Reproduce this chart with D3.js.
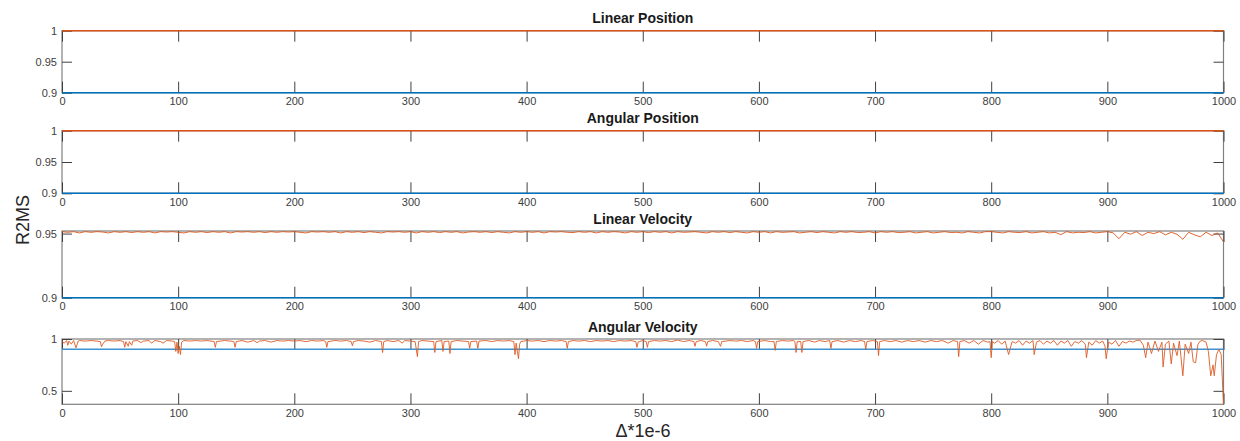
<!DOCTYPE html>
<html><head><meta charset="utf-8">
<script src="https://cdn.jsdelivr.net/npm/d3@7"></script>
<style>
html,body{margin:0;padding:0;background:#fff;}
svg{display:block;font-family:"Liberation Sans",Arial,Helvetica,sans-serif;}
</style></head>
<body>
<svg id="chart" width="1240" height="441"></svg>
<script>
// ---------- data ----------
const titles = ["Linear Position", "Angular Position", "Linear Velocity", "Angular Velocity"];
const xTicks = [0, 100, 200, 300, 400, 500, 600, 700, 800, 900, 1000];
const yTicks1 = [0.9, 0.95, 1];
const yTicks2 = [0.9, 0.95, 1];
const yTicks3 = [0.9, 0.95];
const yTicks4 = [0.5, 1];
const yLabel = "R2MS";
const xLabel = "\u0394*1e-6";

// constant series (x, value)
const posX = [0, 1000];
const linPosOrange = [1, 1];
const linPosBlue = [0.9, 0.9];
const angPosOrange = [1, 1];
const angPosBlue = [0.9, 0.9];
const linVelBlue = [0.9, 0.9];
const angVelBlue = [0.9, 0.9];

// linear velocity sampled at x = 0,5,...,1000
const linVel = [
0.9515,0.951,0.9515,0.9505,0.9515,0.951,0.9515,0.9512,0.9505,0.9515,0.951,0.9515,0.9508,0.9515,0.951,0.9515,0.9505,0.9515,0.9512,0.9515,
0.951,0.9505,0.9515,0.951,0.9515,0.9508,0.9515,0.951,0.9515,0.9505,0.9515,0.9512,0.9515,0.951,0.9515,0.9508,0.9515,0.951,0.9515,0.9512,
0.9515,0.951,0.9505,0.9515,0.9512,0.9515,0.951,0.9515,0.9505,0.9515,0.951,0.9515,0.9508,0.9515,0.951,0.9505,0.9515,0.9512,0.9515,0.951,
0.9515,0.9505,0.9515,0.951,0.9515,0.9508,0.9515,0.951,0.9515,0.9505,0.9512,0.9515,0.951,0.9515,0.9508,0.9515,0.951,0.9505,0.9515,0.951,
0.9515,0.951,0.9515,0.9505,0.9515,0.9512,0.9515,0.951,0.9508,0.9515,0.951,0.9515,0.9505,0.9515,0.951,0.9515,0.9512,0.9505,0.9515,0.951,
0.9515,0.9508,0.9515,0.951,0.9515,0.9505,0.9515,0.951,0.9512,0.9515,0.951,0.9505,0.9515,0.951,0.9515,0.9508,0.9515,0.951,0.9505,0.9515,
0.951,0.9515,0.9505,0.9515,0.951,0.9512,0.9515,0.9505,0.951,0.9515,0.9508,0.9515,0.951,0.9505,0.9515,0.951,0.9515,0.9508,0.951,0.9515,
0.9505,0.9515,0.951,0.9515,0.9508,0.951,0.9515,0.9505,0.951,0.9515,0.9505,0.951,0.9515,0.9508,0.951,0.9505,0.9515,0.951,0.9505,0.9515,
0.9515,0.951,0.9505,0.9515,0.951,0.9508,0.9515,0.9505,0.951,0.9515,0.9505,0.951,0.9492,0.9515,0.9505,0.951,0.9508,0.9515,0.9505,0.951,
0.9515,0.9505,0.946,0.951,0.9495,0.9515,0.9485,0.951,0.95,0.9515,0.949,0.951,0.9495,0.9455,0.951,0.949,0.9475,0.951,0.9485,0.9505,
0.9435];
const linVelStep = 5;

// angular velocity: irregular samples
const angVelX = [
0,2,4,5,6,8,10,12,14,15,20,25,30,33,34,35,37,40,45,50,53,54,55,57,58,60,61,65,68,70,75,77,80,85,87,90,95,97,98,99,
100,101,102,103,105,110,115,120,125,131,132,133,140,145,148,149,150,155,160,165,168,170,175,180,185,190,195,
200,205,210,215,220,225,227,228,229,235,240,245,249,250,251,255,260,265,270,275,276,277,280,285,290,293,295,
300,304,306,307,310,315,320,321,322,327,328,329,333,334,335,340,345,350,351,352,357,358,359,365,370,375,380,385,389,390,391,393,394,395,
400,405,410,415,420,425,430,434,435,436,440,445,450,455,460,465,470,475,480,485,490,494,495,496,
500,503,504,505,510,515,520,525,530,535,540,544,545,546,550,554,555,556,560,565,567,568,575,580,585,590,595,597,598,599,
605,610,613,614,615,620,625,630,631,632,633,636,637,638,643,648,652,657,661,662,663,668,673,678,683,688,691,692,693,698,
702,703,704,708,713,718,723,728,733,738,743,748,753,758,763,767,771,772,773,777,781,785,789,793,797,799,
800,801,803,806,809,812,815,818,821,824,827,830,833,836,837,839,842,845,848,851,854,857,860,863,866,869,872,875,878,881,882,884,887,890,893,896,898,899,
901,904,907,910,913,916,919,922,925,928,931,933,935,938,941,944,947,948,950,953,955,957,960,962,965,967,970,972,974,976,978,980,982,985,987,989,991,992,994,996,998,1000];
const angVelY = [
0.975,0.96,0.985,0.94,0.98,0.95,0.985,0.915,0.98,0.985,0.98,0.985,0.98,0.975,0.925,0.95,0.98,0.985,0.98,0.985,0.975,0.92,0.975,0.93,0.975,0.94,0.98,0.985,0.965,0.98,0.985,0.96,0.985,0.975,0.96,0.985,0.98,0.975,0.88,0.97,
0.86,0.93,0.85,0.97,0.985,0.98,0.985,0.98,0.985,0.975,0.92,0.975,0.985,0.98,0.975,0.92,0.975,0.985,0.97,0.985,0.965,0.98,0.985,0.97,0.985,0.98,0.985,
0.98,0.985,0.975,0.985,0.98,0.985,0.975,0.92,0.975,0.985,0.98,0.985,0.975,0.935,0.975,0.985,0.98,0.97,0.985,0.975,0.87,0.975,0.985,0.975,0.985,0.96,0.985,
0.98,0.975,0.83,0.975,0.985,0.98,0.975,0.87,0.975,0.985,0.88,0.975,0.98,0.86,0.975,0.985,0.98,0.975,0.91,0.975,0.98,0.91,0.98,0.985,0.975,0.985,0.98,0.985,0.975,0.85,0.96,0.81,0.95,0.975,
0.985,0.98,0.985,0.975,0.985,0.98,0.985,0.975,0.91,0.975,0.985,0.98,0.985,0.975,0.985,0.98,0.985,0.975,0.985,0.98,0.985,0.975,0.92,0.97,
0.985,0.975,0.92,0.975,0.985,0.98,0.985,0.975,0.99,0.975,0.985,0.975,0.93,0.975,0.985,0.975,0.93,0.975,0.985,0.975,0.93,0.975,0.985,0.98,0.985,0.975,0.985,0.975,0.91,0.975,
0.985,0.975,0.975,0.89,0.975,0.985,0.98,0.985,0.975,0.87,0.975,0.975,0.87,0.975,0.985,0.97,0.985,0.975,0.985,0.91,0.975,0.985,0.97,0.985,0.975,0.985,0.975,0.90,0.975,0.985,
0.975,0.84,0.975,0.985,0.975,0.985,0.97,0.985,0.975,0.985,0.97,0.985,0.975,0.985,0.96,0.985,0.975,0.83,0.975,0.985,0.96,0.985,0.95,0.985,0.97,0.975,
0.82,0.975,0.96,0.985,0.95,0.98,0.85,0.975,0.96,0.985,0.94,0.98,0.96,0.985,0.85,0.97,0.985,0.95,0.98,0.96,0.985,0.94,0.98,0.96,0.985,0.93,0.975,0.96,0.985,0.95,0.82,0.97,0.94,0.985,0.96,0.98,0.93,0.81,
0.97,0.95,0.985,0.93,0.975,0.96,0.98,0.97,0.985,0.99,0.94,0.82,0.97,0.86,0.98,0.88,0.97,0.73,0.95,0.98,0.76,0.96,0.84,0.98,0.645,0.95,0.86,0.97,0.78,0.77,0.95,0.98,0.985,0.97,0.88,0.645,0.75,0.645,0.85,0.9,0.85,0.37];

// ---------- layout ----------
const svg = d3.select("#chart");
const left = 62, right = 1223.5;
const orange = "#D95319", blue = "#0072BD";
const boxColor = "#808080", tickColor = "#404040", labelColor = "#404040";

const panels = [
  {title: titles[0], top: 30.7, bottom: 92.7, domain: [0.9, 1], yTicks: yTicks1,
   series: [{x: posX, y: linPosBlue, c: blue, w: 1.6}, {x: posX, y: linPosOrange, c: orange, w: 1.6}]},
  {title: titles[1], top: 130.7, bottom: 193.3, domain: [0.9, 1], yTicks: yTicks2,
   series: [{x: posX, y: angPosBlue, c: blue, w: 1.6}, {x: posX, y: angPosOrange, c: orange, w: 1.6}]},
  {title: titles[2], top: 231, bottom: 297.7, domain: [0.9, 0.952], yTicks: yTicks3,
   series: [{x: posX, y: linVelBlue, c: blue, w: 1.6},
            {x: linVel.map((d, i) => i * linVelStep), y: linVel, c: orange, w: 0.9}]},
  {title: titles[3], top: 339, bottom: 404.3, domain: [0.37, 1], yTicks: yTicks4,
   series: [{x: posX, y: angVelBlue, c: "#3d93d1", w: 1.5},
            {x: angVelX, y: angVelY, c: "#DC5A24", w: 0.9}]}
];

const x = d3.scaleLinear().domain([0, 1000]).range([left, right]);

panels.forEach(p => {
  const y = d3.scaleLinear().domain(p.domain).range([p.bottom, p.top]);
  const g = svg.append("g");

  g.append("rect").attr("x", left).attr("y", p.top)
    .attr("width", right - left).attr("height", p.bottom - p.top)
    .attr("fill", "none").attr("stroke", boxColor).attr("stroke-width", 1.2);

  const xb = g.append("g").attr("transform", `translate(0,${p.bottom})`)
    .call(d3.axisBottom(x).tickValues(xTicks).tickFormat(d3.format("d"))
      .tickSizeInner(-11).tickSizeOuter(0).tickPadding(5));
  const xt = g.append("g").attr("transform", `translate(0,${p.top})`)
    .call(d3.axisTop(x).tickValues(xTicks).tickFormat("")
      .tickSizeInner(-11).tickSizeOuter(0));
  const yl = g.append("g").attr("transform", `translate(${left},0)`)
    .call(d3.axisLeft(y).tickValues(p.yTicks).tickFormat(d => String(+d.toFixed(2)))
      .tickSizeInner(-10).tickSizeOuter(0).tickPadding(5));
  const yr = g.append("g").attr("transform", `translate(${right},0)`)
    .call(d3.axisRight(y).tickValues(p.yTicks).tickFormat("")
      .tickSizeInner(-10).tickSizeOuter(0));

  [xb, xt, yl, yr].forEach(a => {
    a.select(".domain").remove();
    a.selectAll(".tick line").attr("stroke", tickColor).attr("stroke-width", 1);
    a.selectAll(".tick text").attr("fill", labelColor)
      .style("font-size", "11px").style("font-family", "'Liberation Sans', Arial, sans-serif");
  });

  const line = d3.line().x(d => x(d[0])).y(d => y(d[1]));
  p.series.forEach(s => {
    const pts = s.x.map((xv, i) => [xv, s.y[i]]);
    g.append("path").datum(pts).attr("d", line)
      .attr("fill", "none").attr("stroke", s.c).attr("stroke-width", s.w)
      .attr("stroke-linejoin", "round");
  });

  g.append("text").attr("x", (left + right) / 2).attr("y", p.top - 7.5)
    .attr("text-anchor", "middle").attr("font-weight", "bold")
    .attr("font-size", "14px").attr("fill", "#1a1a1a").text(p.title);
});

svg.append("text").attr("transform", "translate(29,220) rotate(-90)")
  .attr("text-anchor", "middle").attr("font-size", "18px").attr("fill", "#262626").text(yLabel);
svg.append("text").attr("x", 643).attr("y", 437)
  .attr("text-anchor", "middle").attr("font-size", "18px").attr("fill", "#262626").text(xLabel);
</script>
</body></html>
